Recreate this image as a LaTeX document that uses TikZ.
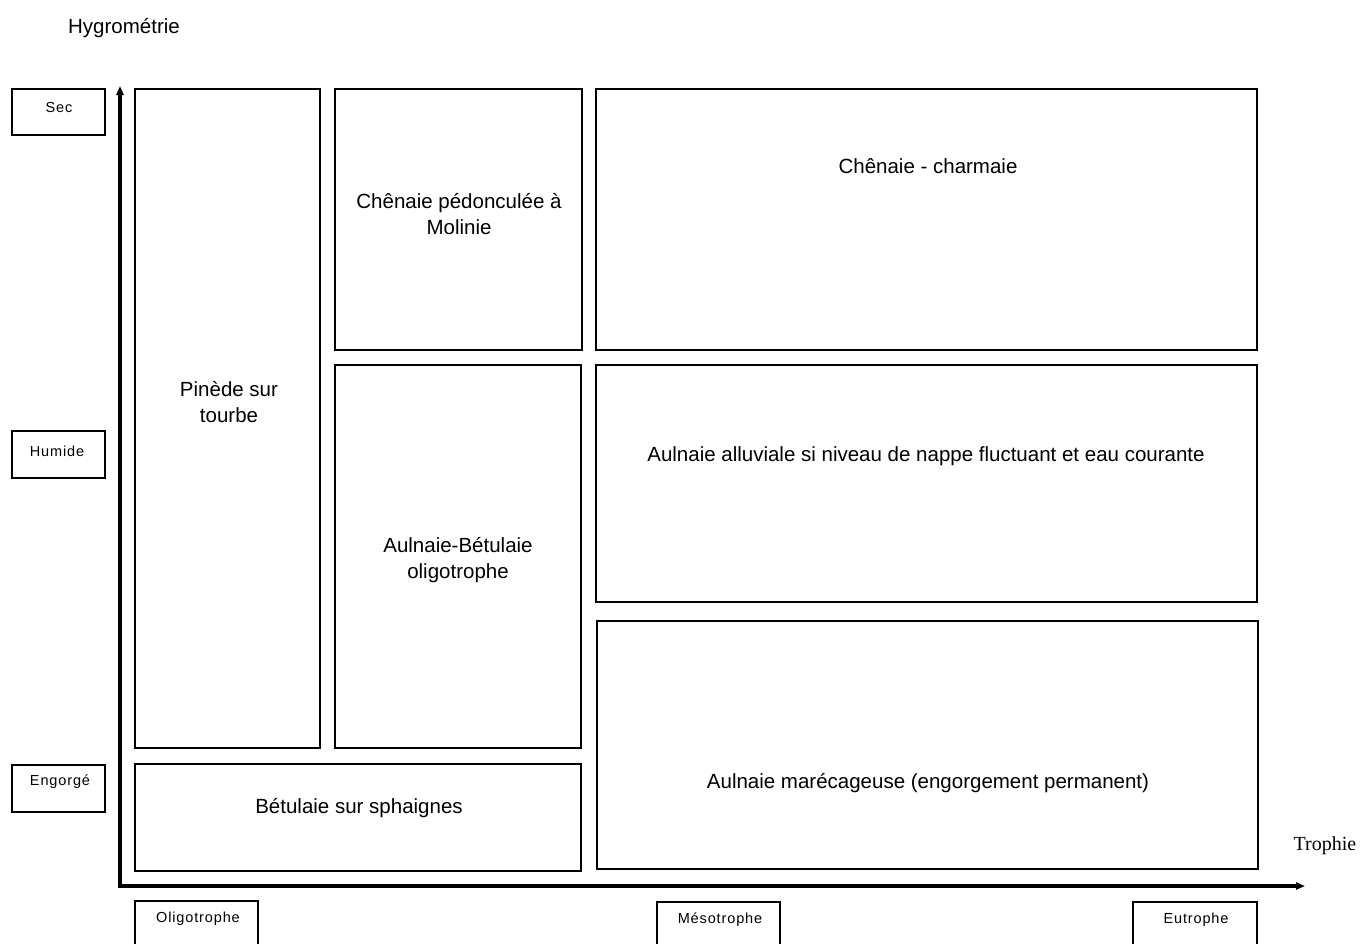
\documentclass[tikz,border=0pt]{standalone}
\usepackage{fontspec}
\setmainfont{Liberation Sans}
\newfontfamily\serifT{Liberation Serif}
\newfontfamily\smallF[LetterSpace=6]{Liberation Sans}
\usetikzlibrary{arrows.meta}
\tikzset{
  box/.style={draw, line width=1.8pt, inner sep=0pt},
  lbl/.style={font=\fontsize{20.5}{26}\selectfont, align=center, inner sep=0pt},
  slbl/.style={font=\smallF\fontsize{14.5}{17}\selectfont, inner sep=0pt},
  axis/.style={line width=3.2pt, -{Triangle[length=9pt,width=7pt]}},
}
\begin{document}
\begin{tikzpicture}[x=1pt,y=-1pt]
\useasboundingbox[fill=white] (0,0) rectangle (1360,943);
\begin{scope}
\clip (0,0) rectangle (1360,943);
% scale labels
\node[box, minimum width=93pt, minimum height=46pt] (sec) at (58.5,112) {};
\node[slbl] (secT) at (59,108) {Sec};
\node[box, minimum width=93pt, minimum height=47pt] (hum) at (58.5,454.5) {};
\node[slbl] (humT) at (57,451) {Humide};
\node[box, minimum width=93pt, minimum height=47pt] (eng) at (58.5,788.5) {};
\node[slbl] (engT) at (60,782) {Engorgé};
\node[box, minimum width=123pt, minimum height=59pt] (oli) at (196.5,930.5) {};
\node[slbl] (oliT) at (198,919) {Oligotrophe};
\node[box, minimum width=123pt, minimum height=58pt] (mes) at (718.5,931) {};
\node[slbl] (mesT) at (720,920) {Mésotrophe};
\node[box, minimum width=124pt, minimum height=58pt] (eut) at (1195,931) {};
\node[slbl] (eutT) at (1196,920) {Eutrophe};
% main boxes
\node[box, minimum width=185pt, minimum height=659pt] (pin) at (227.5,418.5) {};
\node[lbl] (pinT) at (229,402) {Pinède sur\\tourbe};
\node[box, minimum width=247pt, minimum height=261pt] (cped) at (458.5,219.5) {};
\node[lbl] (cpedT) at (459,214) {Chênaie pédonculée à\\Molinie};
\node[box, minimum width=661pt, minimum height=261pt] (cch) at (926.5,219.5) {};
\node[lbl] (cchT) at (928,166) {Chênaie - charmaie};
\node[box, minimum width=246pt, minimum height=383pt] (abet) at (458,556.5) {};
\node[lbl] (abetT) at (458,560) {Aulnaie-Bétulaie\\oligotrophe};
\node[box, minimum width=661pt, minimum height=237pt] (aall) at (926.5,483.5) {};
\node[lbl] (aallT) at (926,456) {Aulnaie alluviale si niveau de nappe fluctuant et eau courante};
\node[box, minimum width=446pt, minimum height=107pt] (bet) at (358,817.5) {};
\node[lbl] (betT) at (359,808) {Bétulaie sur sphaignes};
\node[box, minimum width=661pt, minimum height=248pt] (amar) at (927.5,745) {};
\node[lbl] (amarT) at (928,783) {Aulnaie marécageuse (engorgement permanent)};
% axes
\coordinate (o) at (120,886);
\coordinate (ytop) at (120,86);
\coordinate (xend) at (1305,886);
\draw[axis] ([yshift=-1.6pt]o) -- (ytop);
\draw[axis] ([xshift=-1.6pt]o) -- (xend);
\node[font=\fontsize{20.5}{24}\selectfont, inner sep=0pt] (hyg) at (124,28) {Hygrométrie};
\node[font=\serifT\fontsize{20}{24}\selectfont, inner sep=0pt] (tro) at (1325,846) {Trophie};
\end{scope}
\end{tikzpicture}
\end{document}
